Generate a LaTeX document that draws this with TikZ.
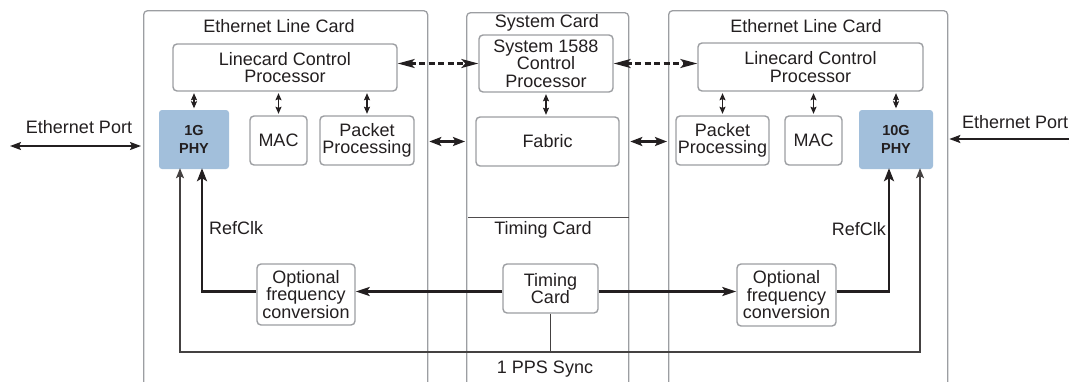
\documentclass[tikz,border=0pt]{standalone}
\usepackage{fontspec}
\setmainfont{Liberation Sans}
\usetikzlibrary{arrows.meta}
\definecolor{ink}{HTML}{231F20}
\definecolor{frame}{HTML}{9C9EA2}
\definecolor{phyblue}{HTML}{A2BFDB}
\begin{document}
\begin{tikzpicture}[x=1pt,y=-1pt,
  every node/.style={text=ink, font=\fontsize{18}{17.5}\selectfont},
  card/.style={draw=frame, line width=1.3pt, rounded corners=4pt, inner sep=0pt, anchor=north west},
  blk/.style={draw=frame, line width=1.4pt, rounded corners=4pt, inner sep=0pt, align=center, fill=white},
  phy/.style={fill=phyblue, rounded corners=3pt, inner sep=0pt, align=center,
     font=\fontsize{14.5}{18}\selectfont\bfseries},
  lbl/.style={inner sep=0pt},
  small/.style={draw=ink, line width=1.1pt, {Stealth[length=7pt,width=6pt,inset=1pt]}-{Stealth[length=7pt,width=6pt,inset=1pt]}, shorten >=1.5pt, shorten <=1.5pt},
  eth/.style={draw=ink, line width=1.8pt, {Stealth[length=11pt,width=8pt,inset=2pt]}-{Stealth[length=11pt,width=8pt,inset=2pt]}},
  dsh/.style={draw=ink, line width=2.3pt, dash pattern=on 6pt off 3.5pt, {Stealth[length=17pt,width=9pt,inset=4pt]}-{Stealth[length=17pt,width=9pt,inset=4pt]}},
  fab/.style={draw=ink, line width=2.2pt, {Stealth[length=12pt,width=9pt,inset=2.5pt]}-{Stealth[length=12pt,width=9pt,inset=2.5pt]}},
  ref/.style={draw=ink, line width=2.8pt, -{Stealth[length=13pt,width=10pt,inset=3pt]}},
  tim/.style={draw=ink, line width=2.3pt, -{Stealth[length=14pt,width=9pt,inset=3pt]}},
  pps/.style={draw=ink!85, line width=1.2pt},
  ppsa/.style={pps, -{Stealth[length=10pt,width=8pt,inset=2pt]}}
]
\useasboundingbox (0,0) rectangle (1069,381);

% cards
\node[card, minimum width=284pt, minimum height=400pt] (lc) at (143,10) {};
\node[card, minimum width=162pt, minimum height=400pt] (sc) at (466,12) {};
\node[card, minimum width=279pt, minimum height=400pt] (rc) at (668,10) {};

% titles
\node[lbl, anchor=base] (tl1) at (279,32) {Ethernet Line Card};
\node[lbl, anchor=base] (tl2) at (547,27) {System Card};
\node[lbl, anchor=base] (tl3) at (806,32) {Ethernet Line Card};

% timing card divider
\coordinate (divL) at (468,217);
\coordinate (divR) at (629,217);
\draw[draw=ink!80, line width=1pt] (divL) -- (divR);
\node[lbl, anchor=base] (tct) at (543,234) {Timing Card};

% left line card
\node[blk, minimum width=224pt, minimum height=47pt] (lcpL) at (285,67.5) {Linecard Control\\Processor};
\node[phy, minimum width=70pt, minimum height=59pt] (phyL) at (194,139.5) {1G\\PHY};
\node[blk, minimum width=57pt, minimum height=49pt] (macL) at (278.5,140.5) {MAC};
\node[blk, minimum width=94pt, minimum height=49pt] (ppL) at (367,140.5) {Packet\\Processing};

% system card
\node[blk, minimum width=134pt, minimum height=57pt] (s1588) at (546,63.5) {System 1588\\Control\\Processor};
\node[blk, minimum width=143pt, minimum height=49pt] (fabric) at (547.5,141.5) {Fabric};

% right line card
\node[blk, minimum width=225pt, minimum height=48pt] (lcpR) at (810.5,67) {Linecard Control\\Processor};
\node[blk, minimum width=93pt, minimum height=49pt] (ppR) at (722.5,140.5) {Packet\\Processing};
\node[blk, minimum width=57pt, minimum height=49pt] (macR) at (813.5,140.5) {MAC};
\node[phy, minimum width=74pt, minimum height=59pt] (phyR) at (896,139.5) {10G\\PHY};

% bottom blocks
\node[blk, minimum width=98pt, minimum height=61pt] (ofcL) at (306,294.5) {Optional\\frequency\\conversion};
\node[blk, minimum width=95pt, minimum height=49pt] (tc) at (550.5,288.5) {Timing\\Card};
\node[blk, minimum width=99pt, minimum height=62pt] (ofcR) at (786.5,295) {Optional\\frequency\\conversion};

% ethernet ports
\node[lbl, anchor=base] (epL) at (79,133) {Ethernet Port};
\node[lbl, anchor=base west] (epR) at (962,128) {Ethernet Port};
\coordinate (ethL) at (10,146);
\coordinate (ethR) at (1080,139);
\draw[eth] (ethL) -- ([xshift=-2pt]ethL -| lc.west);
\draw[eth] ([xshift=1pt]ethR -| rc.east) -- (ethR);

% internal small arrows
\draw[small] (lcpL.south -| phyL) -- (phyL.north);
\draw[small] (lcpL.south -| macL) -- (macL.north);
\draw[small] (lcpL.south -| ppL) -- (ppL.north);
\draw[small] (s1588.south) -- (s1588.south |- fabric.north);
\draw[small] (lcpR.south -| ppR) -- (ppR.north);
\draw[small] (lcpR.south -| macR) -- (macR.north);
\draw[small] (lcpR.south -| phyR) -- (phyR.north);

% dashed control links
\draw[dsh] (lcpL.east |- s1588) -- (s1588.west);
\draw[dsh] (s1588.east) -- (s1588.east -| lcpR.west);

% fabric links
\draw[fab] ([xshift=1pt]lc.east |- fabric) -- ([xshift=-1pt]sc.west |- fabric);
\draw[fab] ([xshift=1pt]sc.east |- fabric) -- ([xshift=-1pt]rc.west |- fabric);

% timing distribution
\coordinate (ty) at (0,291.5);
\draw[tim] (tc.west |- ty) -- (ofcL.east |- ty);
\draw[tim] (tc.east |- ty) -- (ofcR.west |- ty);

% RefClk
\coordinate (xrl) at (202,0);
\coordinate (xrr) at (889,0);
\draw[ref] (ofcL.west |- ty) -| ([yshift=1pt]phyL.south -| xrl);
\draw[ref] (ofcR.east |- ty) -| ([yshift=1pt]phyR.south -| xrr);
\node[lbl, anchor=base west] (rcL) at (209,234) {RefClk};
\node[lbl, anchor=base east] (rcR) at (886,235) {RefClk};

% 1 PPS sync
\coordinate (ppsy) at (0,352);
\coordinate (xpl) at (180,0);
\coordinate (xpr) at (920,0);
\draw[pps] (tc.south) -- (tc.south |- ppsy);
\draw[ppsa] (tc.south |- ppsy) -| ([yshift=1pt]phyL.south -| xpl);
\draw[ppsa] (tc.south |- ppsy) -| ([yshift=1pt]phyR.south -| xpr);
\node[lbl, anchor=base] (ppst) at (545,373) {1 PPS Sync};
\end{tikzpicture}
\end{document}
